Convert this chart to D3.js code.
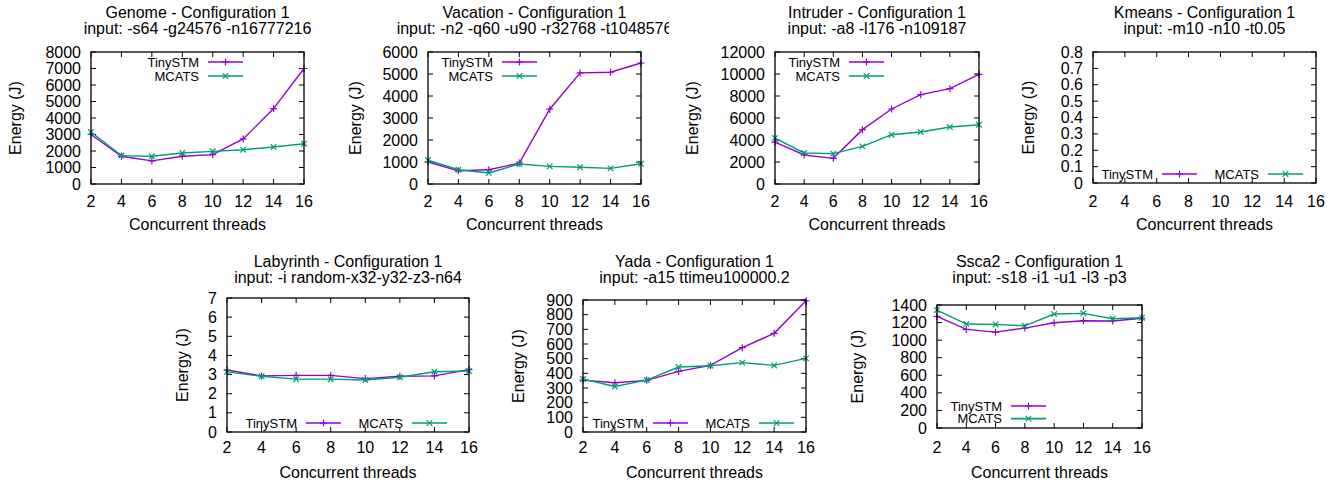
<!DOCTYPE html>
<html>
<head>
<meta charset="utf-8">
<script src="https://cdn.jsdelivr.net/npm/d3@7"></script>
<style>
  body { margin: 0; background: #fff; }
  svg text { font-family: "Liberation Sans", Arial, sans-serif; font-size: 16px; fill: #000; }
  svg text.key { font-size: 13px; }
</style>
</head>
<body>
<svg id="chart" width="1338" height="485"></svg>
<script>
// -- DATA --
const threads = [2, 4, 6, 8, 10, 12, 14, 16];
const seriesNames = ["TinySTM", "MCATS"];

const genomeTiny  = [3000, 1680, 1400, 1680, 1780, 2730, 4570, 7000];
const genomeMcats = [3150, 1720, 1680, 1880, 1980, 2080, 2240, 2440];

const vacationTiny  = [1000, 600, 650, 950, 3400, 5050, 5080, 5500];
const vacationMcats = [1080, 650, 500, 910, 800, 760, 710, 920];

const intruderTiny  = [3800, 2640, 2330, 4940, 6820, 8120, 8670, 9970];
const intruderMcats = [4180, 2820, 2760, 3420, 4480, 4730, 5180, 5390];

const kmeansTiny  = [];
const kmeansMcats = [];

const labyrinthTiny  = [3.24, 2.93, 2.96, 2.96, 2.79, 2.91, 2.93, 3.26];
const labyrinthMcats = [3.14, 2.91, 2.76, 2.76, 2.72, 2.86, 3.15, 3.19];

const yadaTiny  = [354, 336, 352, 413, 454, 575, 673, 895];
const yadaMcats = [361, 310, 354, 443, 452, 473, 454, 502];

const sscaTiny  = [1270, 1122, 1091, 1137, 1198, 1221, 1218, 1249];
const sscaMcats = [1342, 1183, 1179, 1163, 1297, 1305, 1244, 1255];

const yMaxes  = [8000, 6000, 12000, 0.8, 7, 900, 1400];
const ySteps  = [1000, 1000, 2000, 0.1, 1, 100, 200];

const titles = [
    ["Genome - Configuration 1", "input: -s64 -g24576 -n16777216"],
    ["Vacation - Configuration 1", "input: -n2 -q60 -u90 -r32768 -t1048576"],
    ["Intruder - Configuration 1", "input: -a8 -l176 -n109187"],
    ["Kmeans - Configuration 1", "input: -m10 -n10 -t0.05"],
    ["Labyrinth - Configuration 1", "input: -i random-x32-y32-z3-n64"],
    ["Yada - Configuration 1", "input: -a15 ttimeu100000.2"],
    ["Ssca2 - Configuration 1", "input: -s18 -i1 -u1 -l3 -p3"]
];
const seriesData = [
    [genomeTiny, genomeMcats],
    [vacationTiny, vacationMcats],
    [intruderTiny, intruderMcats],
    [kmeansTiny, kmeansMcats],
    [labyrinthTiny, labyrinthMcats],
    [yadaTiny, yadaMcats],
    [sscaTiny, sscaMcats]
];

// -- LAYOUT --
const layout = [
    { box: [91, 304, 52, 184],   clip: [0, 334.5],      row: 0, ylab: 15,   key: { x: 199,  y: 62,  dx: 0,   dy: 14 } },
    { box: [428, 641, 52, 184],  clip: [334.5, 669],    row: 0, ylab: 355,  key: { x: 493,  y: 62,  dx: 0,   dy: 14 } },
    { box: [775, 979, 52, 184],  clip: [669, 1003.5],   row: 0, ylab: 692,  key: { x: 840,  y: 62,  dx: 0,   dy: 14 } },
    { box: [1093, 1316, 52, 183], clip: [1003.5, 1338], row: 0, ylab: 1028, key: { x: 1153, y: 174, dx: 106, dy: 0 } },
    { box: [227, 469, 298, 432], clip: [167, 501.75],   row: 1, ylab: 182,  key: { x: 297,  y: 423, dx: 106, dy: 0 } },
    { box: [583, 806, 300, 432], clip: [501.75, 836.25], row: 1, ylab: 518, key: { x: 644,  y: 423, dx: 106, dy: 0 } },
    { box: [937, 1142, 305, 428], clip: [836.25, 1170.75], row: 1, ylab: 857, key: { x: 1002, y: 406, dx: 0,  dy: 12.6 } }
];
const rows = [
    { top: 0,   bottom: 240, title: 18,  tick: 207, xlab: 230 },
    { top: 240, bottom: 485, title: 267, tick: 453, xlab: 478 }
];
const colors = ["#9400d3", "#009e73"];
const fmt = d => String(+d.toFixed(1));

const svg = d3.select("#chart");
const defs = svg.append("defs");

function marker(g, k, x, y) {
    let s = k === 0 ? 3.5 : 2.8;
    let p = k === 0
        ? `M${x - s},${y}H${x + s}M${x},${y - s}V${y + s}`
        : `M${x - s},${y - s}L${x + s},${y + s}M${x - s},${y + s}L${x + s},${y - s}`;
    g.append("path").attr("d", p).attr("stroke", colors[k]).attr("stroke-width", 1.2).attr("fill", "none");
}

layout.forEach((L, i) => {
    const [x0, x1, y0, y1] = L.box;
    const R = rows[L.row];

    defs.append("clipPath").attr("id", "clip" + i)
        .append("rect")
        .attr("x", L.clip[0]).attr("y", R.top)
        .attr("width", L.clip[1] - L.clip[0]).attr("height", R.bottom - R.top);

    const g = svg.append("g").attr("clip-path", `url(#clip${i})`);

    const x = d3.scaleLinear().domain([2, 16]).range([x0, x1]);
    const y = d3.scaleLinear().domain([0, yMaxes[i]]).range([y1, y0]);
    const yTicks = d3.range(0, yMaxes[i] + ySteps[i] / 2, ySteps[i]);

    // -- TITLE --
    const cx = (x0 + x1) / 2;
    g.append("text").attr("x", cx).attr("y", R.title).attr("text-anchor", "middle").text(titles[i][0]);
    g.append("text").attr("x", cx).attr("y", R.title + 16).attr("text-anchor", "middle").text(titles[i][1]);

    // -- TICKS --
    const tk = g.append("g").attr("stroke", "#000").attr("stroke-width", 1);
    threads.forEach(t => {
        tk.append("line").attr("x1", x(t)).attr("x2", x(t)).attr("y1", y1).attr("y2", y1 - 5);
        tk.append("line").attr("x1", x(t)).attr("x2", x(t)).attr("y1", y0).attr("y2", y0 + 5);
    });
    yTicks.forEach(v => {
        tk.append("line").attr("x1", x0).attr("x2", x0 + 5).attr("y1", y(v)).attr("y2", y(v));
        tk.append("line").attr("x1", x1).attr("x2", x1 - 5).attr("y1", y(v)).attr("y2", y(v));
    });

    g.selectAll(".xt").data(threads).enter().append("text")
        .attr("x", d => x(d)).attr("y", R.tick)
        .attr("text-anchor", "middle").text(d => d);
    g.selectAll(".yt").data(yTicks).enter().append("text")
        .attr("x", x0 - 10).attr("y", d => y(d)).attr("dy", "0.35em")
        .attr("text-anchor", "end").text(fmt);

    g.append("text").attr("x", cx).attr("y", R.xlab).attr("text-anchor", "middle").text("Concurrent threads");
    g.append("text")
        .attr("transform", `translate(${L.ylab},${(y0 + y1) / 2}) rotate(-90)`)
        .attr("dy", "0.35em").attr("text-anchor", "middle").text("Energy (J)");

    // -- LINES --
    seriesData[i].forEach((vals, k) => {
        if (!vals.length) return;
        const pts = vals.map((v, j) => [x(threads[j]), y(v)]);
        g.append("path").attr("d", d3.line()(pts))
            .attr("fill", "none").attr("stroke", colors[k]).attr("stroke-width", 1.4);
        pts.forEach(p => marker(g, k, p[0], p[1]));
    });

    // -- FRAME --
    g.append("rect").attr("x", x0).attr("y", y0).attr("width", x1 - x0).attr("height", y1 - y0)
        .attr("fill", "none").attr("stroke", "#000").attr("stroke-width", 1.3);

    // -- LEGEND --
    seriesNames.forEach((name, k) => {
        const tx = L.key.x + k * L.key.dx, ty = L.key.y + k * L.key.dy;
        g.append("text").attr("class", "key").attr("x", tx).attr("y", ty).attr("dy", "0.35em")
            .attr("text-anchor", "end").text(name);
        g.append("line").attr("x1", tx + 9).attr("x2", tx + 44).attr("y1", ty).attr("y2", ty)
            .attr("stroke", colors[k]).attr("stroke-width", 1.6);
        marker(g, k, tx + 26.5, ty);
    });
});
</script>
</body>
</html>
